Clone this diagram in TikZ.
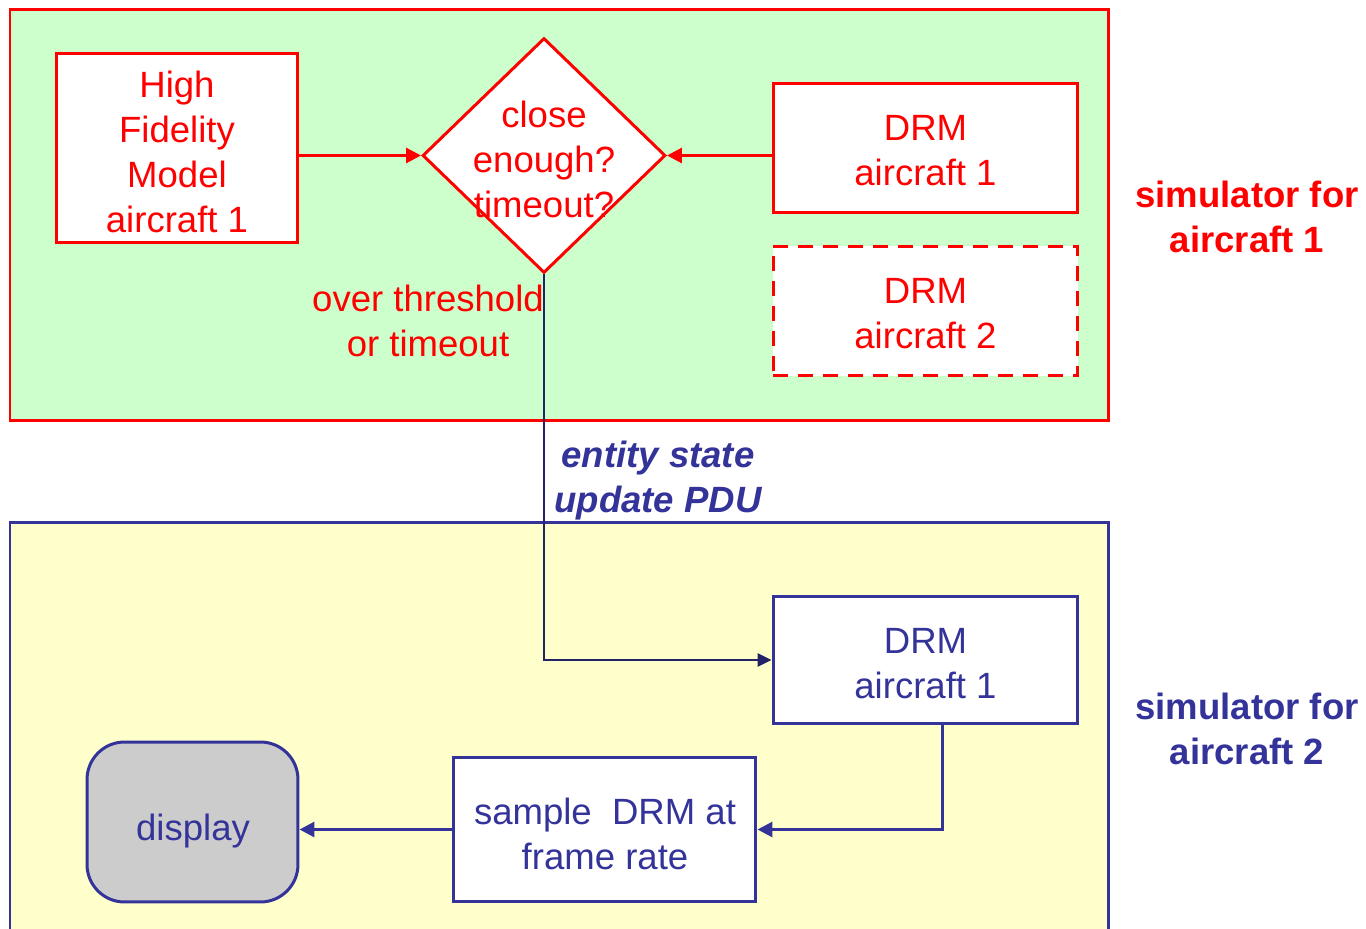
\documentclass[tikz,border=0pt]{standalone}
\usepackage{fontspec}
\setmainfont{Liberation Sans}
\usetikzlibrary{arrows.meta,shapes.geometric}
\definecolor{simred}{HTML}{FF0000}
\definecolor{simnavy}{HTML}{333399}
\definecolor{pduline}{HTML}{222266}
\definecolor{greenbg}{HTML}{CCFFCC}
\definecolor{yellowbg}{HTML}{FFFFCC}
\definecolor{dispgray}{HTML}{CCCCCC}
\tikzset{
  txt/.style={font=\fontsize{20.8}{25.6}\selectfont, align=center},
  redbox/.style={draw=simred, line width=0.06cm, fill=white, inner sep=0pt, txt, text=simred},
  navybox/.style={draw=simnavy, line width=0.06cm, fill=white, inner sep=0pt, txt, text=simnavy},
  redarrow/.style={draw=simred, line width=0.06cm, -{Triangle[length=0.3cm,width=0.3cm]}},
  navyarrow/.style={draw=simnavy, line width=0.06cm, -{Triangle[length=0.3cm,width=0.3cm]}},
  pduarrow/.style={draw=pduline, line width=0.05cm, -{Triangle[length=0.28cm,width=0.26cm]}},
  simlabel/.style={font=\fontsize{20.8}{25.6}\selectfont\bfseries, align=center},
}
\begin{document}
\begin{tikzpicture}[x=0.02cm, y=-0.02cm]
\useasboundingbox (0,0) rectangle (1366,929);
\fill[white] (0,0) rectangle (1366,929);

% simulator regions
\draw[draw=simred, line width=0.06cm, fill=greenbg] (10,10) rectangle (1108,420);
\draw[draw=simnavy, line width=0.06cm, fill=yellowbg] (10,522) rectangle (1108,940);

% simulator for aircraft 1
\node[redbox, minimum width=4.84cm, minimum height=3.8cm] (hfm) at (177,148) {};
\node[txt, text=simred] (hfmtext) at (177,152) {High\\Fidelity\\Model\\aircraft 1};
\node[draw=simred, line width=0.06cm, fill=white, shape=diamond, inner sep=0pt,
      minimum width=4.86cm, minimum height=4.7cm] (dia) at (544,155.5) {};
\node[txt, text=simred] (diatext) at (544,159) {close\\enough?\\timeout?};
\node[redbox, minimum width=6.1cm, minimum height=2.6cm] (drm1) at (925.5,148) {};
\node[txt, text=simred] (drm1text) at (925.5,151) {DRM\\aircraft 1};
\node[redbox, dashed, dash pattern=on 0.3cm off 0.2cm, minimum width=6.1cm, minimum height=2.6cm] (drm2) at (925.5,311) {};
\node[txt, text=simred] (drm2text) at (925.5,314) {DRM\\aircraft 2};
\node[txt, text=simred] (thr) at (428,321) {over threshold\\or timeout};
\node[simlabel, text=simred] (sim1) at (1247,217) {simulator for\\aircraft 1};

\draw[redarrow] (hfm.east |- dia.west) -- (dia.west);
\draw[redarrow] (drm1.west |- dia.east) -- (dia.east);

% simulator for aircraft 2
\node[navybox, minimum width=6.1cm, minimum height=2.56cm] (drmB) at (925.5,660) {};
\node[txt, text=simnavy] (drmBtext) at (925.5,664) {DRM\\aircraft 1};
\node[navybox, minimum width=6.06cm, minimum height=2.9cm] (sample) at (604.5,829.5) {};
\node[txt, text=simnavy] (sampletext) at (605,834) {sample~ DRM at\\frame rate};
\node[draw=simnavy, line width=0.06cm, fill=dispgray, rounded corners=0.75cm, inner sep=0pt,
      minimum width=4.22cm, minimum height=3.2cm] (disp) at (192.5,822) {};
\node[txt, text=simnavy] (disptext) at (193,831) {display};
\node[simlabel, text=simnavy] (sim2) at (1247,729) {simulator for\\aircraft 2};

% state update sent between the simulators
\node[txt, text=simnavy, font=\fontsize{20.8}{25.6}\selectfont\bfseries\itshape] (pdu) at (658,481) {entity state\\update PDU};
\draw[pduarrow] (dia.south) |- (drmB.west);

\draw[navyarrow] ([xshift=0.33cm]drmB.south) |- (sample.east);
\draw[navyarrow] (sample.west) -- (sample.west -| disp.east);
\end{tikzpicture}
\end{document}
